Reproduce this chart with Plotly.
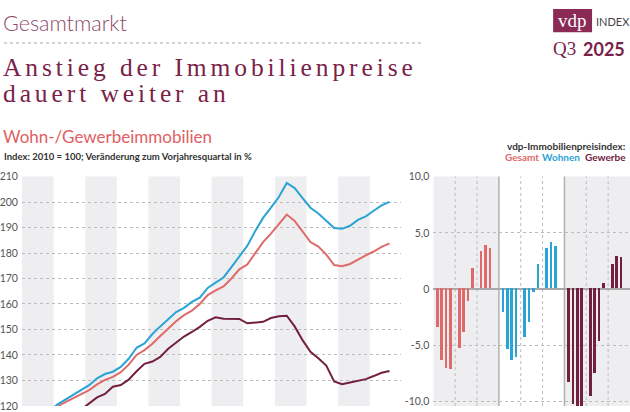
import plotly.graph_objects as go

W, H = 630, 412

# ---------------- data ----------------
years = list(range(2014, 2026))
quarters = [f"{y} Q{q}" for y in years for q in range(1, 5)][:47]  # up to 2025 Q3

wohnen = [112.0, 114.0, 116.0, 118.0,
          120.6, 122.5, 124.6, 126.2,
          128.1, 130.8, 132.5, 133.4,
          135.3, 138.5, 142.8, 144.5,
          148.2, 151.2, 154.0, 156.8,
          158.5, 160.8, 162.5, 166.3,
          168.4, 170.4, 174.5, 178.6,
          182.8, 188.6, 193.8, 197.8,
          202.0, 207.5, 205.5, 201.6,
          197.8, 195.5, 192.8, 189.8,
          189.5, 190.7, 193.0, 194.4,
          196.6, 198.7, 200.1]
gesamt = [113.5, 115.0, 116.7, 118.3,
          119.8, 121.5, 123.0, 124.5,
          126.2, 128.4, 130.2, 131.4,
          133.2, 136.2, 140.0, 141.9,
          144.4, 147.4, 150.4, 153.2,
          155.6, 157.4, 160.0, 163.5,
          165.3, 166.9, 170.0, 173.6,
          175.5, 179.7, 184.3, 187.6,
          191.3, 195.1, 192.6, 188.6,
          184.3, 182.5, 179.4, 175.3,
          174.8, 175.7, 177.5, 179.1,
          180.6, 182.4, 183.8]
gewerbe = [110.0, 111.3, 112.5, 113.8,
           115.0, 116.2, 117.4, 118.6,
           120.9, 123.3, 124.7, 127.5,
           128.2, 130.3, 133.6, 136.5,
           137.4, 139.2, 142.4, 144.9,
           147.2, 149.0, 151.0, 153.4,
           154.8, 154.2, 154.1, 154.1,
           152.4, 152.6, 153.0, 154.5,
           155.2, 155.4, 151.2, 145.8,
           141.2, 138.7, 135.8, 129.6,
           128.5, 129.2, 130.0, 130.5,
           131.7, 133.0, 133.7]

line_ticks = [120, 130, 140, 150, 160, 170, 180, 190, 200, 210]

bar_quarters = ["Q1 2023", "Q2 2023", "Q3 2023", "Q4 2023",
                "Q1 2024", "Q2 2024", "Q3 2024", "Q4 2024",
                "Q1 2025", "Q2 2025", "Q3 2025"]
gesamt_yoy = [-3.4, -6.4, -7.1, -7.2, -5.3, -3.9, -1.1, 1.8, 3.3, 3.9, 3.6]
wohnen_yoy = [-2.1, -5.4, -6.4, -6.1, -4.3, -3.0, -0.3, 2.2, 3.6, 4.1, 3.8]
gewerbe_yoy = [-8.3, -10.3, -10.9, -12.1, -9.6, -7.5, -4.7, 0.5, 2.2, 2.9, 2.8]

bar_tickvals = [10, 5, 0, -5, -10]
bar_ticktext = ["10,0", "5,0", "0", "-5,0", "-10,0"]

# ---------------- colours ----------------
C_GES = "#e06a6a"
C_WOH = "#2aa3d5"
C_GEW = "#73203f"
MAROON = "#7a2148"
GRID = "#bcbcbc"
BAND = "#eeeef0"
TXT = "#555555"

SANS = "Lato, 'Open Sans', sans-serif"
SERIF = "'Liberation Serif', 'DejaVu Serif', serif"


def qx(label):
    y, q = label.split(" Q")
    return int(y) + (int(q) - 1) / 4 + 0.125


def bx(label, panel):
    q, y = label.split(" ")
    return 3 * panel + (int(y) - 2023) + int(q[1]) / 5


def px(x):
    return x / W


def py(y):
    return 1 - y / H


fig = go.Figure()

xs = [qx(l) for l in quarters]
for vals, col, name in [(gewerbe, C_GEW, "Gewerbe"), (gesamt, C_GES, "Gesamt"), (wohnen, C_WOH, "Wohnen")]:
    fig.add_trace(go.Scatter(x=xs, y=vals, mode="lines", name=name,
                             line=dict(color=col, width=2), xaxis="x", yaxis="y",
                             showlegend=False, cliponaxis=True))

for p, (vals, col, name) in enumerate([(gesamt_yoy, C_GES, "Gesamt"), (wohnen_yoy, C_WOH, "Wohnen"),
                                       (gewerbe_yoy, C_GEW, "Gewerbe")]):
    fig.add_trace(go.Bar(x=[bx(l, p) for l in bar_quarters], y=vals, width=0.12,
                         marker=dict(color=col, line=dict(width=0)), name=name,
                         xaxis="x2", yaxis="y2", showlegend=False))

shapes = []
# line chart bands (every other year)
for y0 in range(2014, 2026, 2):
    shapes.append(dict(type="rect", xref="x", yref="y domain", x0=y0, x1=y0 + 1, y0=0, y1=1,
                       fillcolor=BAND, line=dict(width=0), layer="below"))
# bar panels
for x0 in (0, 6):
    shapes.append(dict(type="rect", xref="x2", yref="y2 domain", x0=x0, x1=x0 + 3, y0=0, y1=1,
                       fillcolor=BAND, line=dict(width=0), layer="below"))
for xv in (1, 2, 4, 5, 7, 8):
    shapes.append(dict(type="line", xref="x2", yref="y2 domain", x0=xv, x1=xv, y0=0, y1=1,
                       line=dict(color=GRID, width=1, dash="dot"), layer="below"))
for xv in (3, 6):
    shapes.append(dict(type="line", xref="x2", yref="y2 domain", x0=xv, x1=xv, y0=0, y1=1,
                       line=dict(color="#b0b0b0", width=1.5), layer="below"))
# header dotted rule
shapes.append(dict(type="line", xref="paper", yref="paper", x0=px(3), x1=px(422), y0=py(38), y1=py(38),
                   line=dict(color="#c4c4c4", width=1.5, dash="dot")))
# logo box
shapes.append(dict(type="rect", xref="paper", yref="paper", x0=px(553), x1=px(592), y0=py(27), y1=py(3),
                   fillcolor="#8a2a55", line=dict(width=0)))

ann = []


def add_text(text, x, y, size, color, family=SANS, xanchor="left", yanchor="middle", weight=None):
    f = dict(size=size, color=color, family=family)
    if weight:
        f["weight"] = weight
    ann.append(dict(text=text, x=px(x), y=py(y), xref="paper", yref="paper", showarrow=False,
                    xanchor=xanchor, yanchor=yanchor, font=f))


add_text("Gesamtmarkt", 0, 18, 21.5, "#8c4a6a", weight=300)
add_text('<span style="letter-spacing:3.9px">Anstieg der Immobilienpreise</span>', 0, 63.5, 25.5, MAROON, SERIF)
add_text('<span style="letter-spacing:3.9px">dauert weiter an</span>', 0, 90, 25.5, MAROON, SERIF)
add_text("vdp", 572.5, 15, 19, "white", SERIF, xanchor="center")
add_text("INDEX", 594, 16, 11, "#444444")
add_text("Q3", 551, 44, 19, MAROON, SERIF)
add_text("<b>2025</b>", 627, 44, 18, MAROON, xanchor="right")
add_text("Wohn-/Gewerbeimmobilien", 0, 134, 17, "#e0605f")
add_text("<b>Index: 2010 = 100; Veränderung zum Vorjahresquartal in %</b>", 1, 155, 9.5, "#333333")
add_text("<b>vdp-Immobilienpreisindex:</b>", 628, 144, 10, "#333333", xanchor="right")
add_text("<b>Gesamt</b>", 541, 156, 10, C_GES, xanchor="right")
add_text("<b>Wohnen</b>", 582, 156, 10, C_WOH, xanchor="right")
add_text("<b>Gewerbe</b>", 628, 156, 10, C_GEW, xanchor="right")

top = 175.6
dom_top = py(top)

fig.update_layout(
    width=W, height=H, margin=dict(l=0, r=0, t=0, b=0),
    paper_bgcolor="white", plot_bgcolor="rgba(0,0,0,0)",
    shapes=shapes, annotations=ann, showlegend=False, bargap=0,
    xaxis=dict(domain=[px(21), px(401)], range=[2014, 2026], showgrid=False, zeroline=False,
               showticklabels=False, ticks="", fixedrange=True),
    yaxis=dict(domain=[0, dom_top], range=[210 - (H - top) / 2.625, 210.05], tickvals=line_ticks,
               showgrid=True, gridcolor=GRID, griddash="dot", gridwidth=1, zeroline=False,
               tickfont=dict(size=10.5, color=TXT, family=SANS), ticks="", ticklabelstandoff=3,
               ticklabeloverflow="allow"),
    xaxis2=dict(domain=[px(433), 1], range=[0, 9], showgrid=False, zeroline=False,
                showticklabels=False, ticks="", anchor="y2"),
    yaxis2=dict(domain=[0, dom_top], range=[-10 - (H - 407) / 11.57, 10.02], anchor="x2",
                tickvals=bar_tickvals, ticktext=bar_ticktext,
                showgrid=True, gridcolor=GRID, griddash="dot", gridwidth=1,
                zeroline=True, zerolinecolor="#a8a8a8", zerolinewidth=1.5,
                tickfont=dict(size=10.5, color=TXT, family=SANS), ticks="", ticklabelstandoff=3,
                ticklabeloverflow="allow"),
)

fig.write_html("out.html", config={"displayModeBar": False},
               post_script="document.body.style.margin='0';document.body.style.overflow='hidden';"
                           "document.documentElement.style.overflow='hidden';"
                           "var gd=document.getElementById('{plot_id}');gd.style.overflow='hidden';"
                           "gd.parentNode.style.overflow='hidden';gd.parentNode.style.height='412px';"
                           "var svgs=gd.querySelectorAll('svg.main-svg');"
                           "for(var i=0;i<svgs.length;i++){svgs[i].style.overflow='hidden';}")
